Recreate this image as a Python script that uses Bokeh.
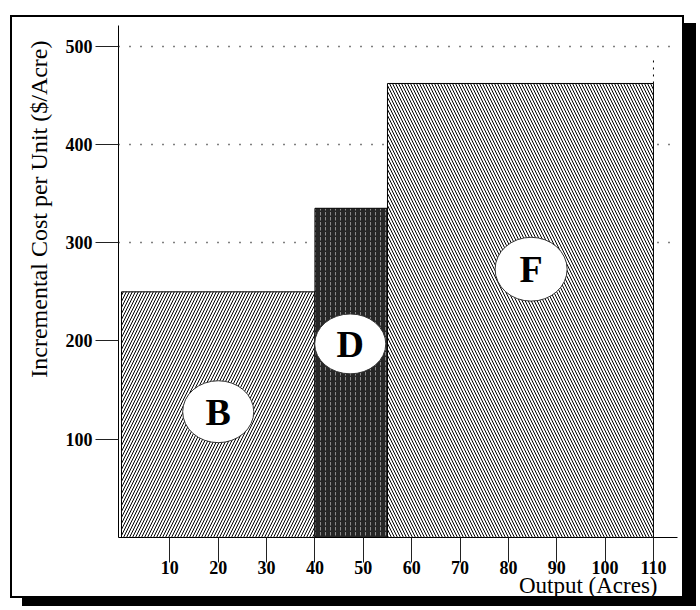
from bokeh.plotting import figure
from bokeh.models import FixedTicker, Range1d, Title
from bokeh.core.properties import value
from bokeh.embed import file_html
from bokeh.resources import INLINE

# ---- data ----
blocks = ["B", "D", "F"]
x_left = [0, 40, 55]
x_right = [40, 55, 110]
cost = [250, 335, 462]
x_ticks = [10, 20, 30, 40, 50, 60, 70, 80, 90, 100, 110]
y_ticks = [100, 200, 300, 400, 500]
grid_levels = [300, 400, 500]

# label ellipse placement
ell_x = [20, 47.3, 84.7]
ell_y = [128, 197, 273]
ell_w = [14.7, 14.7, 14.9]
ell_h = [63, 61, 65]

FONT = "Liberation Serif"

p = figure(width=674, height=583, output_backend="svg", toolbar_location=None,
           x_range=Range1d(-0.62, 114.97), y_range=Range1d(0, 521),
           min_border_left=106, min_border_right=9, min_border_top=8,
           min_border_bottom=63)
p.styles = {"border": "2px solid black", "box-shadow": "12px 8px 0 0 black",
            "margin-left": "10px", "margin-top": "15px"}
p.outline_line_color = None
p.background_fill_color = "white"
p.border_fill_color = "white"

# grid
p.xgrid.visible = False
p.ygrid.ticker = FixedTicker(ticks=grid_levels)
p.ygrid.grid_line_color = "black"
p.ygrid.grid_line_dash = "1 10"
p.ygrid.grid_line_width = 1.5

# axes
for ax in (p.xaxis[0], p.yaxis[0]):
    ax.axis_line_color = "black"
    ax.axis_line_width = 1
    ax.major_tick_line_color = "#222222"
    ax.major_tick_line_width = 1
    ax.major_tick_in = 0
    ax.minor_tick_line_color = None
    ax.major_label_text_font = FONT
    ax.major_label_text_font_style = "bold"
    ax.major_label_text_font_size = "18px"
    ax.major_label_text_color = "black"
p.xaxis.ticker = FixedTicker(ticks=x_ticks)
p.yaxis.ticker = FixedTicker(ticks=y_ticks)
p.xaxis.major_tick_out = 25
p.yaxis.major_tick_out = 23
p.xaxis.major_label_standoff = -2
p.yaxis.major_label_standoff = 3

# bars
hatch_styles = [
    dict(fill_color="white", hatch_pattern="right_diagonal_line", hatch_color="black",
         hatch_scale=6, hatch_weight=1.0),
    dict(fill_color="#262626", hatch_pattern="vertical_dash", hatch_color="#8a8a8a",
         hatch_scale=5, hatch_weight=1),
    dict(fill_color="white", hatch_pattern="left_diagonal_line", hatch_color="black",
         hatch_scale=6, hatch_weight=1.0),
]
for i in range(len(blocks)):
    p.quad(left=[x_left[i]], right=[x_right[i]], bottom=[0], top=[cost[i]],
           line_color="black", line_width=1, **hatch_styles[i])

# dashed guide above F's right edge
p.segment(x0=[x_right[2]], y0=[cost[2]], x1=[x_right[2]], y1=[490],
          line_color="black", line_dash="2 5", line_width=1)

# ellipses with labels
p.ellipse(x=ell_x, y=ell_y, width=ell_w, height=ell_h, fill_color="white",
          line_color="#333333", line_width=1)
p.text(x=ell_x, y=ell_y, text=blocks, text_font=value(FONT), text_font_style="bold",
       text_font_size="38px", text_align="center", text_baseline="middle",
       text_color="black")

# axis titles
p.add_layout(Title(text="Output (Acres)", align="right", offset=20, standoff=-8,
                   vertical_align="top",
                   text_font=FONT, text_font_size="23px", text_font_style="normal",
                   text_color="black", text_line_height=1.0), "below")
p.add_layout(Title(text="Incremental Cost per Unit ($/Acre)", align="right", offset=15,
                   standoff=22, text_font=FONT, text_font_size="24px",
                   text_font_style="normal", text_color="black",
                   text_line_height=1.0), "left")

open("out.html", "w").write(file_html(p, INLINE))
